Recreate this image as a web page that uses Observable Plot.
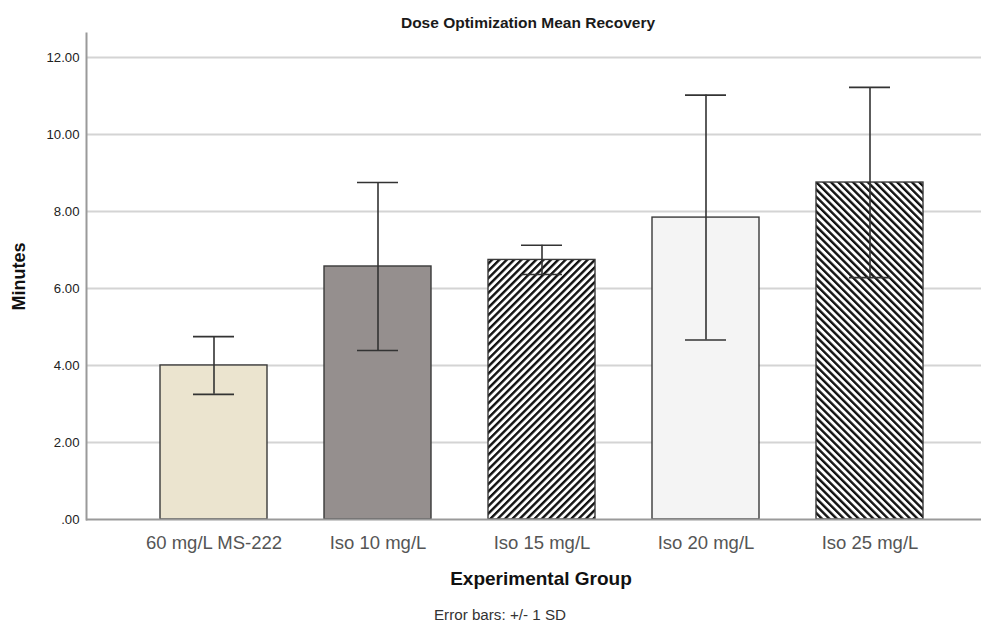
<!DOCTYPE html>
<html>
<head>
<meta charset="utf-8">
<script src="https://cdn.jsdelivr.net/npm/d3@7"></script>
<script src="https://cdn.jsdelivr.net/npm/@observablehq/plot@0.6"></script>
<style>
  body { margin: 0; background: #fff; }
  #wrap { position: relative; width: 981px; height: 625px; font-family: "Liberation Sans", Arial, sans-serif; }
  #wrap svg { position: absolute; left: 0; top: 0; }
  .lbl { position: absolute; width: 600px; text-align: center; white-space: nowrap; }
  #title { left: 228px; top: 15px; font-size: 15.5px; line-height: 15.5px; font-weight: bold; color: #1a1a1a; }
  #xlabel { left: 241px; top: 569px; font-size: 19px; line-height: 19px; font-weight: bold; color: #111; }
  #caption { left: 200px; top: 607px; font-size: 15.2px; line-height: 15.2px; color: #333; }
</style>
</head>
<body>
<div id="wrap">
  <div class="lbl" id="title">Dose Optimization Mean Recovery</div>
  <div class="lbl" id="xlabel">Experimental Group</div>
  <div class="lbl" id="caption">Error bars: +/- 1 SD</div>
</div>
<script>
// Mean recovery time (minutes) per experimental group, with standard deviations
const groups = ["60 mg/L MS-222", "Iso 10 mg/L", "Iso 15 mg/L", "Iso 20 mg/L", "Iso 25 mg/L"];
const means = [4.00, 6.57, 6.74, 7.84, 8.75];
const sds = [0.75, 2.18, 0.38, 3.18, 2.47];
const fills = ["#ebe4cf", "#958f8e", "url(#hatch-up)", "#f4f4f4", "url(#hatch-down)"];
const yTicks = [0, 2, 4, 6, 8, 10, 12];

const rows = groups.map((g, i) => ({
  group: g,
  mean: means[i],
  lo: means[i] - sds[i],
  hi: means[i] + sds[i],
  fill: fills[i]
}));

const fmt = d => d === 0 ? ".00" : d.toFixed(2);

const chart = Plot.plot({
  width: 981,
  height: 625,
  marginTop: 33,
  marginBottom: 106,
  marginLeft: 86,
  marginRight: 0,
  style: { fontFamily: "'Liberation Sans', Arial, sans-serif", background: "transparent" },
  x: { type: "band", domain: groups, range: [102, 980], padding: 0.35 },
  y: { domain: [0, 12.62] },
  color: { type: "identity" },
  marks: [
    Plot.ruleY(yTicks.filter(t => t > 0), { stroke: "#d4d4d4", strokeWidth: 2 }),
    Plot.barY(rows, { x: "group", y: "mean", fill: "fill", stroke: "#3a3a3a", strokeWidth: 1.4 }),
    Plot.ruleX(rows, { x: "group", y1: "lo", y2: "hi", stroke: "#333", strokeWidth: 1.6 }),
    Plot.tickY(rows, { x: "group", y: "hi", insetLeft: 33, insetRight: 33, stroke: "#333", strokeWidth: 1.6 }),
    Plot.tickY(rows, { x: "group", y: "lo", insetLeft: 33, insetRight: 33, stroke: "#333", strokeWidth: 1.6 }),
    Plot.ruleY([0], { stroke: "#9a9a9a", strokeWidth: 2 }),
    Plot.frame({ anchor: "left", stroke: "#9a9a9a", strokeWidth: 2 }),
    Plot.axisY({ ticks: yTicks, tickFormat: fmt, tickSize: 0, tickPadding: 7, fontSize: 13.2, color: "#222", label: null }),
    Plot.axisX({ tickSize: 0, tickPadding: 16, fontSize: 18.5, color: "#555", label: null }),
    Plot.text(["Minutes"], { frameAnchor: "left", rotate: -90, dx: -67, dy: 34, fontSize: 18, fontWeight: "bold", fill: "#111" })
  ]
});

// Diagonal hatch fills for the striped bars
const defs = d3.select(chart).insert("defs", ":first-child");
[["hatch-up", 45], ["hatch-down", -45]].forEach(([id, angle]) => {
  const p = defs.append("pattern")
    .attr("id", id)
    .attr("patternUnits", "userSpaceOnUse")
    .attr("width", 5.2)
    .attr("height", 5.2)
    .attr("patternTransform", `rotate(${angle})`);
  p.append("rect").attr("width", 5.2).attr("height", 5.2).attr("fill", "#fff");
  p.append("rect").attr("width", 2.4).attr("height", 5.2).attr("fill", "#111");
});

document.getElementById("wrap").prepend(chart);
</script>
</body>
</html>
